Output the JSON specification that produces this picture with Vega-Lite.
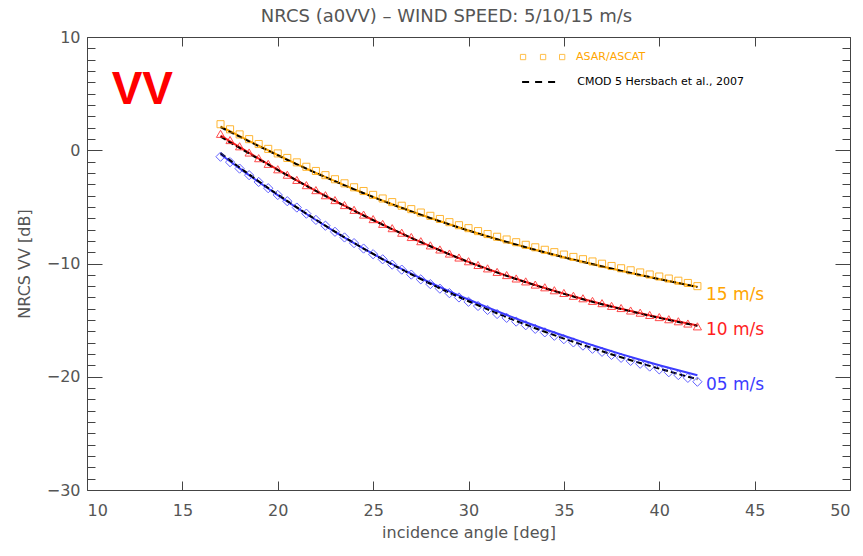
{
  "$schema": "https://vega.github.io/schema/vega-lite/v6.json",
  "width": 763,
  "height": 453,
  "autosize": {"type": "none"},
  "padding": {"left": 87, "top": 37, "right": 13, "bottom": 66},
  "background": "white",
  "config": {
    "view": {"stroke": null},
    "font": "DejaVu Sans",
    "axis": {"domainColor": "#444", "tickColor": "#444", "labelColor": "#555", "titleColor": "#555", "labelFont": "DejaVu Sans", "titleFont": "DejaVu Sans", "labelFontSize": 16, "titleFontSize": 16, "titleFontWeight": "normal", "grid": false}
  },
  "title": {"text": "NRCS (a0VV) – WIND SPEED: 5/10/15 m/s", "fontSize": 18, "font": "DejaVu Sans", "fontWeight": "normal", "color": "#555", "anchor": "middle", "dx": -22, "offset": 3},
  "datasets": {
    "pts": [
      {"a":17,"v":2.3,"s":"15"},{"a":17.5,"v":1.85,"s":"15"},{"a":18,"v":1.4,"s":"15"},{"a":18.5,"v":0.98,"s":"15"},{"a":19,"v":0.55,"s":"15"},{"a":19.5,"v":0.12,"s":"15"},{"a":20,"v":-0.28,"s":"15"},{"a":20.5,"v":-0.68,"s":"15"},{"a":21,"v":-1.07,"s":"15"},{"a":21.5,"v":-1.46,"s":"15"},{"a":22,"v":-1.83,"s":"15"},{"a":22.5,"v":-2.2,"s":"15"},{"a":23,"v":-2.56,"s":"15"},{"a":23.5,"v":-2.92,"s":"15"},{"a":24,"v":-3.27,"s":"15"},{"a":24.5,"v":-3.6,"s":"15"},{"a":25,"v":-3.94,"s":"15"},{"a":25.5,"v":-4.26,"s":"15"},{"a":26,"v":-4.58,"s":"15"},{"a":26.5,"v":-4.9,"s":"15"},{"a":27,"v":-5.2,"s":"15"},{"a":27.5,"v":-5.5,"s":"15"},{"a":28,"v":-5.79,"s":"15"},{"a":28.5,"v":-6.07,"s":"15"},{"a":29,"v":-6.35,"s":"15"},{"a":29.5,"v":-6.62,"s":"15"},{"a":30,"v":-6.88,"s":"15"},{"a":30.5,"v":-7.14,"s":"15"},{"a":31,"v":-7.4,"s":"15"},{"a":31.5,"v":-7.64,"s":"15"},{"a":32,"v":-7.88,"s":"15"},{"a":32.5,"v":-8.12,"s":"15"},{"a":33,"v":-8.35,"s":"15"},{"a":33.5,"v":-8.57,"s":"15"},{"a":34,"v":-8.79,"s":"15"},{"a":34.5,"v":-9.0,"s":"15"},{"a":35,"v":-9.21,"s":"15"},{"a":35.5,"v":-9.42,"s":"15"},{"a":36,"v":-9.62,"s":"15"},{"a":36.5,"v":-9.82,"s":"15"},{"a":37,"v":-10.02,"s":"15"},{"a":37.5,"v":-10.22,"s":"15"},{"a":38,"v":-10.42,"s":"15"},{"a":38.5,"v":-10.6,"s":"15"},{"a":39,"v":-10.79,"s":"15"},{"a":39.5,"v":-10.97,"s":"15"},{"a":40,"v":-11.15,"s":"15"},{"a":40.5,"v":-11.33,"s":"15"},{"a":41,"v":-11.52,"s":"15"},{"a":41.5,"v":-11.72,"s":"15"},{"a":42,"v":-12.0,"s":"15"},
      {"a":17,"v":1.45,"s":"10"},{"a":17.5,"v":0.9,"s":"10"},{"a":18,"v":0.35,"s":"10"},{"a":18.5,"v":-0.2,"s":"10"},{"a":19,"v":-0.7,"s":"10"},{"a":19.5,"v":-1.2,"s":"10"},{"a":20,"v":-1.68,"s":"10"},{"a":20.5,"v":-2.16,"s":"10"},{"a":21,"v":-2.62,"s":"10"},{"a":21.5,"v":-3.08,"s":"10"},{"a":22,"v":-3.52,"s":"10"},{"a":22.5,"v":-3.97,"s":"10"},{"a":23,"v":-4.4,"s":"10"},{"a":23.5,"v":-4.84,"s":"10"},{"a":24,"v":-5.26,"s":"10"},{"a":24.5,"v":-5.68,"s":"10"},{"a":25,"v":-6.08,"s":"10"},{"a":25.5,"v":-6.5,"s":"10"},{"a":26,"v":-6.88,"s":"10"},{"a":26.5,"v":-7.28,"s":"10"},{"a":27,"v":-7.66,"s":"10"},{"a":27.5,"v":-8.03,"s":"10"},{"a":28,"v":-8.4,"s":"10"},{"a":28.5,"v":-8.76,"s":"10"},{"a":29,"v":-9.12,"s":"10"},{"a":29.5,"v":-9.47,"s":"10"},{"a":30,"v":-9.8,"s":"10"},{"a":30.5,"v":-10.13,"s":"10"},{"a":31,"v":-10.43,"s":"10"},{"a":31.5,"v":-10.74,"s":"10"},{"a":32,"v":-11.02,"s":"10"},{"a":32.5,"v":-11.32,"s":"10"},{"a":33,"v":-11.58,"s":"10"},{"a":33.5,"v":-11.86,"s":"10"},{"a":34,"v":-12.1,"s":"10"},{"a":34.5,"v":-12.36,"s":"10"},{"a":35,"v":-12.6,"s":"10"},{"a":35.5,"v":-12.85,"s":"10"},{"a":36,"v":-13.07,"s":"10"},{"a":36.5,"v":-13.3,"s":"10"},{"a":37,"v":-13.5,"s":"10"},{"a":37.5,"v":-13.74,"s":"10"},{"a":38,"v":-13.93,"s":"10"},{"a":38.5,"v":-14.15,"s":"10"},{"a":39,"v":-14.34,"s":"10"},{"a":39.5,"v":-14.54,"s":"10"},{"a":40,"v":-14.73,"s":"10"},{"a":40.5,"v":-14.92,"s":"10"},{"a":41,"v":-15.1,"s":"10"},{"a":41.5,"v":-15.3,"s":"10"},{"a":42,"v":-15.55,"s":"10"},
      {"a":17,"v":-0.57,"s":"05"},{"a":17.5,"v":-1.05,"s":"05"},{"a":18,"v":-1.62,"s":"05"},{"a":18.5,"v":-2.2,"s":"05"},{"a":19,"v":-2.8,"s":"05"},{"a":19.5,"v":-3.35,"s":"05"},{"a":20,"v":-3.95,"s":"05"},{"a":20.5,"v":-4.5,"s":"05"},{"a":21,"v":-5.06,"s":"05"},{"a":21.5,"v":-5.6,"s":"05"},{"a":22,"v":-6.15,"s":"05"},{"a":22.5,"v":-6.66,"s":"05"},{"a":23,"v":-7.2,"s":"05"},{"a":23.5,"v":-7.7,"s":"05"},{"a":24,"v":-8.2,"s":"05"},{"a":24.5,"v":-8.68,"s":"05"},{"a":25,"v":-9.18,"s":"05"},{"a":25.5,"v":-9.63,"s":"05"},{"a":26,"v":-10.1,"s":"05"},{"a":26.5,"v":-10.54,"s":"05"},{"a":27,"v":-10.98,"s":"05"},{"a":27.5,"v":-11.4,"s":"05"},{"a":28,"v":-11.82,"s":"05"},{"a":28.5,"v":-12.22,"s":"05"},{"a":29,"v":-12.62,"s":"05"},{"a":29.5,"v":-13.0,"s":"05"},{"a":30,"v":-13.38,"s":"05"},{"a":30.5,"v":-13.75,"s":"05"},{"a":31,"v":-14.1,"s":"05"},{"a":31.5,"v":-14.46,"s":"05"},{"a":32,"v":-14.8,"s":"05"},{"a":32.5,"v":-15.13,"s":"05"},{"a":33,"v":-15.45,"s":"05"},{"a":33.5,"v":-15.77,"s":"05"},{"a":34,"v":-16.08,"s":"05"},{"a":34.5,"v":-16.38,"s":"05"},{"a":35,"v":-16.68,"s":"05"},{"a":35.5,"v":-16.97,"s":"05"},{"a":36,"v":-17.25,"s":"05"},{"a":36.5,"v":-17.53,"s":"05"},{"a":37,"v":-17.8,"s":"05"},{"a":37.5,"v":-18.07,"s":"05"},{"a":38,"v":-18.33,"s":"05"},{"a":38.5,"v":-18.6,"s":"05"},{"a":39,"v":-18.85,"s":"05"},{"a":39.5,"v":-19.1,"s":"05"},{"a":40,"v":-19.35,"s":"05"},{"a":40.5,"v":-19.6,"s":"05"},{"a":41,"v":-19.85,"s":"05"},{"a":41.5,"v":-20.1,"s":"05"},{"a":42,"v":-20.44,"s":"05"}
    ],
    "fit": [
      {"a":17,"v":2.1,"s":"15"},{"a":18,"v":1.25,"s":"15"},{"a":19,"v":0.4,"s":"15"},{"a":20,"v":-0.42,"s":"15"},{"a":21,"v":-1.22,"s":"15"},{"a":22,"v":-1.99,"s":"15"},{"a":23,"v":-2.73,"s":"15"},{"a":24,"v":-3.44,"s":"15"},{"a":25,"v":-4.12,"s":"15"},{"a":26,"v":-4.77,"s":"15"},{"a":27,"v":-5.39,"s":"15"},{"a":28,"v":-5.98,"s":"15"},{"a":29,"v":-6.54,"s":"15"},{"a":30,"v":-7.08,"s":"15"},{"a":31,"v":-7.6,"s":"15"},{"a":32,"v":-8.09,"s":"15"},{"a":33,"v":-8.56,"s":"15"},{"a":34,"v":-9.01,"s":"15"},{"a":35,"v":-9.44,"s":"15"},{"a":36,"v":-9.85,"s":"15"},{"a":37,"v":-10.25,"s":"15"},{"a":38,"v":-10.64,"s":"15"},{"a":39,"v":-11.01,"s":"15"},{"a":40,"v":-11.37,"s":"15"},{"a":41,"v":-11.72,"s":"15"},{"a":42,"v":-12.06,"s":"15"},
      {"a":17,"v":1.3,"s":"10"},{"a":18,"v":0.27,"s":"10"},{"a":19,"v":-0.73,"s":"10"},{"a":20,"v":-1.71,"s":"10"},{"a":21,"v":-2.66,"s":"10"},{"a":22,"v":-3.58,"s":"10"},{"a":23,"v":-4.47,"s":"10"},{"a":24,"v":-5.33,"s":"10"},{"a":25,"v":-6.16,"s":"10"},{"a":26,"v":-6.96,"s":"10"},{"a":27,"v":-7.73,"s":"10"},{"a":28,"v":-8.47,"s":"10"},{"a":29,"v":-9.18,"s":"10"},{"a":30,"v":-9.86,"s":"10"},{"a":31,"v":-10.48,"s":"10"},{"a":32,"v":-11.07,"s":"10"},{"a":33,"v":-11.63,"s":"10"},{"a":34,"v":-12.16,"s":"10"},{"a":35,"v":-12.66,"s":"10"},{"a":36,"v":-13.13,"s":"10"},{"a":37,"v":-13.57,"s":"10"},{"a":38,"v":-13.99,"s":"10"},{"a":39,"v":-14.39,"s":"10"},{"a":40,"v":-14.77,"s":"10"},{"a":41,"v":-15.13,"s":"10"},{"a":42,"v":-15.48,"s":"10"},
      {"a":17,"v":-0.35,"s":"05"},{"a":18,"v":-1.6,"s":"05"},{"a":19,"v":-2.8,"s":"05"},{"a":20,"v":-3.96,"s":"05"},{"a":21,"v":-5.08,"s":"05"},{"a":22,"v":-6.16,"s":"05"},{"a":23,"v":-7.2,"s":"05"},{"a":24,"v":-8.2,"s":"05"},{"a":25,"v":-9.15,"s":"05"},{"a":26,"v":-10.05,"s":"05"},{"a":27,"v":-10.9,"s":"05"},{"a":28,"v":-11.7,"s":"05"},{"a":29,"v":-12.46,"s":"05"},{"a":30,"v":-13.18,"s":"05"},{"a":31,"v":-13.88,"s":"05"},{"a":32,"v":-14.55,"s":"05"},{"a":33,"v":-15.19,"s":"05"},{"a":34,"v":-15.8,"s":"05"},{"a":35,"v":-16.38,"s":"05"},{"a":36,"v":-16.94,"s":"05"},{"a":37,"v":-17.48,"s":"05"},{"a":38,"v":-18.0,"s":"05"},{"a":39,"v":-18.5,"s":"05"},{"a":40,"v":-18.98,"s":"05"},{"a":41,"v":-19.43,"s":"05"},{"a":42,"v":-19.86,"s":"05"}
    ],
    "cmod": [
      {"a":17,"v":2.05,"s":"15"},{"a":18,"v":1.2,"s":"15"},{"a":19,"v":0.37,"s":"15"},{"a":20,"v":-0.44,"s":"15"},{"a":21,"v":-1.24,"s":"15"},{"a":22,"v":-2.0,"s":"15"},{"a":23,"v":-2.74,"s":"15"},{"a":24,"v":-3.45,"s":"15"},{"a":25,"v":-4.13,"s":"15"},{"a":26,"v":-4.78,"s":"15"},{"a":27,"v":-5.4,"s":"15"},{"a":28,"v":-5.99,"s":"15"},{"a":29,"v":-6.55,"s":"15"},{"a":30,"v":-7.09,"s":"15"},{"a":31,"v":-7.61,"s":"15"},{"a":32,"v":-8.1,"s":"15"},{"a":33,"v":-8.57,"s":"15"},{"a":34,"v":-9.02,"s":"15"},{"a":35,"v":-9.45,"s":"15"},{"a":36,"v":-9.86,"s":"15"},{"a":37,"v":-10.26,"s":"15"},{"a":38,"v":-10.65,"s":"15"},{"a":39,"v":-11.02,"s":"15"},{"a":40,"v":-11.38,"s":"15"},{"a":41,"v":-11.73,"s":"15"},{"a":42,"v":-12.08,"s":"15"},
      {"a":17,"v":1.2,"s":"10"},{"a":18,"v":0.2,"s":"10"},{"a":19,"v":-0.78,"s":"10"},{"a":20,"v":-1.74,"s":"10"},{"a":21,"v":-2.68,"s":"10"},{"a":22,"v":-3.59,"s":"10"},{"a":23,"v":-4.48,"s":"10"},{"a":24,"v":-5.34,"s":"10"},{"a":25,"v":-6.17,"s":"10"},{"a":26,"v":-6.97,"s":"10"},{"a":27,"v":-7.74,"s":"10"},{"a":28,"v":-8.48,"s":"10"},{"a":29,"v":-9.19,"s":"10"},{"a":30,"v":-9.87,"s":"10"},{"a":31,"v":-10.5,"s":"10"},{"a":32,"v":-11.09,"s":"10"},{"a":33,"v":-11.65,"s":"10"},{"a":34,"v":-12.18,"s":"10"},{"a":35,"v":-12.68,"s":"10"},{"a":36,"v":-13.15,"s":"10"},{"a":37,"v":-13.6,"s":"10"},{"a":38,"v":-14.02,"s":"10"},{"a":39,"v":-14.42,"s":"10"},{"a":40,"v":-14.8,"s":"10"},{"a":41,"v":-15.16,"s":"10"},{"a":42,"v":-15.5,"s":"10"},
      {"a":17,"v":-0.25,"s":"05"},{"a":18,"v":-1.52,"s":"05"},{"a":19,"v":-2.74,"s":"05"},{"a":20,"v":-3.91,"s":"05"},{"a":21,"v":-5.04,"s":"05"},{"a":22,"v":-6.13,"s":"05"},{"a":23,"v":-7.18,"s":"05"},{"a":24,"v":-8.19,"s":"05"},{"a":25,"v":-9.16,"s":"05"},{"a":26,"v":-10.08,"s":"05"},{"a":27,"v":-10.96,"s":"05"},{"a":28,"v":-11.79,"s":"05"},{"a":29,"v":-12.58,"s":"05"},{"a":30,"v":-13.33,"s":"05"},{"a":31,"v":-14.05,"s":"05"},{"a":32,"v":-14.74,"s":"05"},{"a":33,"v":-15.4,"s":"05"},{"a":34,"v":-16.03,"s":"05"},{"a":35,"v":-16.63,"s":"05"},{"a":36,"v":-17.2,"s":"05"},{"a":37,"v":-17.75,"s":"05"},{"a":38,"v":-18.28,"s":"05"},{"a":39,"v":-18.79,"s":"05"},{"a":40,"v":-19.28,"s":"05"},{"a":41,"v":-19.76,"s":"05"},{"a":42,"v":-20.22,"s":"05"}
    ],
    "labels": [
      {"a":42.45,"v":-12.8,"t":"15 m/s","s":"15"},
      {"a":42.45,"v":-15.9,"t":"10 m/s","s":"10"},
      {"a":42.45,"v":-20.7,"t":"05 m/s","s":"05"}
    ],
    "legsq": [
      {"a":32.86,"v":8.23},{"a":33.91,"v":8.23},{"a":34.91,"v":8.23}
    ],
    "legtxt": [
      {"a":35.64,"v":8.23,"t":"ASAR/ASCAT","c":"#FFA500"},
      {"a":35.7,"v":6.03,"t":"CMOD 5 Hersbach et al., 2007","c":"#000000"}
    ],
    "legdash": [
      {"a":32.81,"a2":34.65,"v":6.03}
    ],
    "vv": [
      {"a":12.9,"v":5.3,"t":"VV"}
    ]
  },
  "resolve": {"axis": {"x": "independent", "y": "independent"}},
  "layer": [
    {
      "data": {"name": "fit"},
      "mark": {"type": "line", "strokeWidth": 2, "interpolate": "monotone"},
      "encoding": {
        "x": {"field": "a", "type": "quantitative", "scale": {"domain": [10, 50], "nice": false, "zero": false},
              "axis": {"orient": "bottom", "title": "incidence angle [deg]", "values": [10,15,20,25,30,35,40,45,50], "tickSize": -9, "labelPadding": 21, "titlePadding": 6, "domainWidth": 1}},
        "y": {"field": "v", "type": "quantitative", "scale": {"domain": [-30, 10], "nice": false, "zero": false},
              "axis": {"orient": "left", "title": "NRCS VV [dB]", "values": [-30,-29,-28,-27,-26,-25,-24,-23,-22,-21,-20,-19,-18,-17,-16,-15,-14,-13,-12,-11,-10,-9,-8,-7,-6,-5,-4,-3,-2,-1,0,1,2,3,4,5,6,7,8,9,10],
                       "labelExpr": "datum.value % 10 === 0 ? replace(datum.label, '-', '\u2212') : ''",
                       "tickSize": {"condition": {"test": "datum.value % 10 === 0", "value": -15}, "value": -8},
                       "labelPadding": 22, "titlePadding": 14, "labelFlush": false, "labelOverlap": false}},
        "color": {"field": "s", "type": "nominal", "scale": {"domain": ["15","10","05"], "range": ["#FFA500","#FF1E1E","#3C3CFF"]}, "legend": null}
      }
    },
    {
      "data": {"name": "cmod"},
      "mark": {"type": "line", "strokeWidth": 2, "color": "#000000", "strokeDash": [6, 3], "interpolate": "monotone"},
      "encoding": {
        "x": {"field": "a", "type": "quantitative",
              "axis": {"orient": "top", "title": null, "labels": false, "values": [10,15,20,25,30,35,40,45,50], "tickSize": -9}},
        "y": {"field": "v", "type": "quantitative",
              "axis": {"orient": "right", "title": null, "labels": false, "values": [-30,-29,-28,-27,-26,-25,-24,-23,-22,-21,-20,-19,-18,-17,-16,-15,-14,-13,-12,-11,-10,-9,-8,-7,-6,-5,-4,-3,-2,-1,0,1,2,3,4,5,6,7,8,9,10],
                       "tickSize": {"condition": {"test": "datum.value % 10 === 0", "value": -15}, "value": -8}}},
        "detail": {"field": "s", "type": "nominal"}
      }
    },
    {
      "data": {"name": "pts"},
      "mark": {"type": "point", "filled": false, "strokeWidth": 1, "opacity": 0.8},
      "encoding": {
        "x": {"field": "a", "type": "quantitative", "axis": null},
        "y": {"field": "v", "type": "quantitative", "axis": null},
        "color": {"field": "s", "type": "nominal", "scale": {"domain": ["15","10","05"], "range": ["#FFA500","#FF1E1E","#3C3CFF"]}, "legend": null},
        "shape": {"field": "s", "type": "nominal", "scale": {"domain": ["15","10","05"], "range": ["square","triangle-up","diamond"]}, "legend": null},
        "size": {"field": "s", "type": "nominal", "scale": {"domain": ["15","10","05"], "range": [50, 85, 45]}, "legend": null}
      }
    },
    {
      "data": {"name": "labels"},
      "mark": {"type": "text", "align": "left", "baseline": "middle", "fontSize": 17, "font": "DejaVu Sans"},
      "encoding": {
        "x": {"field": "a", "type": "quantitative", "axis": null},
        "y": {"field": "v", "type": "quantitative", "axis": null},
        "text": {"field": "t"},
        "color": {"field": "s", "type": "nominal", "scale": {"domain": ["15","10","05"], "range": ["#FFA500","#FF1E1E","#3C3CFF"]}, "legend": null}
      }
    },
    {
      "data": {"name": "vv"},
      "mark": {"type": "text", "align": "center", "baseline": "middle", "fontSize": 46, "fontWeight": "bold", "font": "Liberation Sans", "color": "#FF0000"},
      "encoding": {
        "x": {"field": "a", "type": "quantitative", "axis": null},
        "y": {"field": "v", "type": "quantitative", "axis": null},
        "text": {"field": "t"}
      }
    },
    {
      "data": {"name": "legsq"},
      "mark": {"type": "point", "shape": "square", "filled": false, "size": 28, "strokeWidth": 1, "color": "#FFA500"},
      "encoding": {
        "x": {"field": "a", "type": "quantitative", "axis": null},
        "y": {"field": "v", "type": "quantitative", "axis": null}
      }
    },
    {
      "data": {"name": "legdash"},
      "mark": {"type": "rule", "strokeWidth": 2, "color": "#000000", "strokeDash": [7, 6]},
      "encoding": {
        "x": {"field": "a", "type": "quantitative", "axis": null},
        "x2": {"field": "a2"},
        "y": {"field": "v", "type": "quantitative", "axis": null}
      }
    },
    {
      "data": {"name": "legtxt"},
      "mark": {"type": "text", "align": "left", "baseline": "middle", "fontSize": 11, "font": "DejaVu Sans"},
      "encoding": {
        "x": {"field": "a", "type": "quantitative", "axis": null},
        "y": {"field": "v", "type": "quantitative", "axis": null},
        "text": {"field": "t"},
        "color": {"field": "c", "type": "nominal", "scale": null}
      }
    }
  ]
}
